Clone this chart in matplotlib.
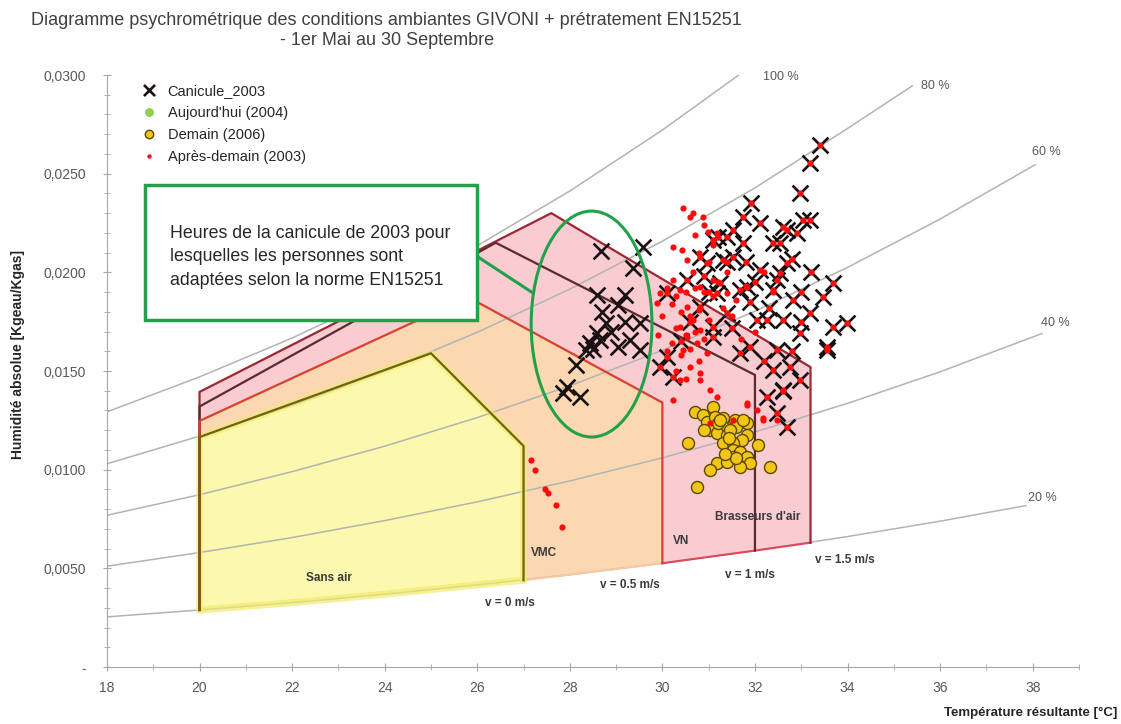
import matplotlib
matplotlib.use('Agg')
import matplotlib.pyplot as plt
from matplotlib.patches import Polygon, Ellipse, Rectangle
from matplotlib.ticker import MultipleLocator, FuncFormatter

plt.rcParams['font.family'] = ['Liberation Sans', 'DejaVu Sans']

# --- humidity curves ---
hr100_T = [18, 20, 22, 24, 26, 28, 30, 31.65]
hr100_w = [0.01293, 0.01470, 0.01667, 0.01888, 0.02135, 0.02412, 0.02721, 0.0300]
hr80_T = [18, 20, 22, 24, 26, 28, 30, 32, 34, 35.4]
hr80_w = [0.01030, 0.01170, 0.01327, 0.01501, 0.01696, 0.01915, 0.02158, 0.02428, 0.02729, 0.02945]
hr60_T = [18, 20, 22, 24, 26, 28, 30, 32, 34, 36, 38.05]
hr60_w = [0.00769, 0.00873, 0.00990, 0.01119, 0.01264, 0.01425, 0.01605, 0.01803, 0.02025, 0.02270, 0.02545]
hr40_T = [18, 20, 22, 24, 26, 28, 30, 32, 34, 36, 38.2]
hr40_w = [0.00511, 0.00580, 0.00656, 0.00742, 0.00837, 0.00943, 0.01060, 0.01191, 0.01336, 0.01496, 0.01690]
hr20_T = [18, 20, 22, 24, 26, 28, 30, 32, 34, 36, 37.85]
hr20_w = [0.00254, 0.00289, 0.00326, 0.00369, 0.00416, 0.00468, 0.00526, 0.00590, 0.00661, 0.00739, 0.00818]
hr_labels = ["100 %", "80 %", "60 %", "40 %", "20 %"]
hr_label_T = [32.55, 35.9, 38.3, 38.5, 38.2]
hr_label_w = [0.0299, 0.02945, 0.0261, 0.01745, 0.00857]

# --- comfort zones (left edge, top, right edge) ---
brasseurs_T = [20.0, 20.0, 27.6, 33.2, 33.2]
brasseurs_w = [0.00289, 0.01394, 0.0230, 0.0152, 0.0063]
vn_T = [20.0, 20.0, 26.4, 32.0, 32.0]
vn_w = [0.00289, 0.0132, 0.0215, 0.0148, 0.0059]
vmc_T = [20.0, 20.0, 25.8, 30.0, 30.0]
vmc_w = [0.00289, 0.01247, 0.01875, 0.0134, 0.00526]
sans_air_T = [20.0, 20.0, 25.0, 27.0, 27.0]
sans_air_w = [0.00289, 0.01165, 0.0159, 0.0112, 0.0044]

zone_names = ["Sans air", "VMC", "VN", "Brasseurs d'air"]
zone_name_T = [22.8, 27.45, 30.4, 32.05]
zone_name_w = [0.00451, 0.00578, 0.00639, 0.0076]
speed_labels = ["v = 0 m/s", "v = 0.5 m/s", "v = 1 m/s", "v = 1.5 m/s"]
speed_T = [26.7, 29.3, 31.9, 33.95]
speed_w = [0.00324, 0.00416, 0.00466, 0.00542]

# --- measured points ---
canicule_T = [28.68, 29.36, 28.58, 29.19, 29.04, 28.79, 29.51, 28.58, 28.43, 28.65,
              29.30, 29.04, 29.51, 28.36, 28.14, 27.93, 28.22, 27.85, 29.58,
              28.90, 28.50, 29.20, 28.70,
              33.40, 33.18, 32.97, 33.18, 31.92, 31.74, 32.10, 31.53, 32.60, 32.90,
              32.54, 31.74, 31.09, 32.69, 32.10, 33.68, 32.47, 33.46, 32.82, 33.98,
              33.68, 33.18, 32.97, 31.89, 33.55, 31.30, 31.17, 31.67, 32.25, 31.09,
              30.81, 31.39, 30.96, 31.53, 32.54, 30.53, 31.24, 31.82, 32.39, 30.10,
              30.81, 31.39, 32.04, 32.60, 30.10, 29.94, 31.09, 31.67, 32.47, 32.75,
              33.55, 32.97, 32.39, 32.25, 32.60, 32.47, 32.69, 30.22, 33.04, 32.69,
              31.90, 32.30, 32.80, 33.20, 31.40, 31.00, 30.60, 30.40, 31.50, 32.00,
              32.80, 33.00, 32.20, 32.60, 33.00, 32.40, 31.80, 31.20, 30.90]
canicule_w = [0.0211, 0.0202, 0.01885, 0.01885, 0.01835, 0.01743, 0.01743, 0.01693, 0.01642, 0.01657,
              0.01657, 0.01622, 0.01607, 0.01607, 0.0153, 0.0142, 0.01368, 0.01389, 0.0213,
              0.0170, 0.0161, 0.0175, 0.0180,
              0.02646, 0.02553, 0.02401, 0.02266, 0.02352, 0.02281, 0.0225, 0.02215, 0.0223, 0.0220,
              0.02149, 0.02149, 0.02164, 0.02048, 0.02012, 0.01946, 0.01961, 0.01875, 0.0186, 0.01743,
              0.01723, 0.01794, 0.01693, 0.01622, 0.01622, 0.02063, 0.01896, 0.01911, 0.01759, 0.01723,
              0.02078, 0.02179, 0.02048, 0.02078, 0.01997, 0.01961, 0.01946, 0.01926, 0.01911, 0.01896,
              0.01825, 0.01794, 0.01759, 0.01759, 0.01571, 0.0152, 0.01673, 0.01591, 0.01607, 0.0152,
              0.01607, 0.01455, 0.01505, 0.01368, 0.01404, 0.01287, 0.01216, 0.0147, 0.02266, 0.02215,
              0.0185, 0.0182, 0.0207, 0.0200, 0.0205, 0.0190, 0.0175, 0.0165, 0.0172, 0.0195,
              0.0160, 0.0175, 0.0155, 0.0140, 0.0190, 0.0215, 0.0205, 0.0218, 0.0198]

aujourdhui_T = []
aujourdhui_w = []

demain_T = [30.70, 30.87, 31.09, 30.96, 31.13, 31.30, 31.56, 31.82, 31.02, 31.30,
            31.17, 31.39, 31.60, 31.82, 31.71, 31.30, 31.53, 32.06, 30.56, 31.53,
            31.67, 31.53, 31.82, 31.17, 31.39, 31.89, 31.67, 31.02, 32.32, 30.74,
            31.46, 31.20, 30.90, 31.25, 31.45, 31.60, 31.35, 31.75]
demain_w = [0.01294, 0.01277, 0.01318, 0.01242, 0.01267, 0.01262, 0.01252, 0.01237, 0.01201, 0.01216,
            0.01186, 0.01176, 0.01216, 0.01176, 0.01151, 0.01135, 0.01135, 0.01125, 0.01135, 0.0110,
            0.0109, 0.01064, 0.01064, 0.01034, 0.01039, 0.01034, 0.01014, 0.00998, 0.01014, 0.00912,
            0.01201, 0.01237, 0.0120, 0.0125, 0.0116, 0.0106, 0.0108, 0.0125]

apres_T = [27.16, 27.25, 27.46, 27.52, 27.70, 27.83,
           30.44, 30.66, 30.87, 30.98, 31.17, 30.42, 30.53, 30.66, 30.22, 29.94,
           29.88, 30.38, 30.81, 31.09, 31.39, 30.53, 30.66, 30.38, 30.81, 30.53,
           30.74, 30.44, 30.96, 30.60, 30.81, 30.38, 30.22, 30.81, 31.02, 31.17,
           31.82, 32.04, 32.17, 32.47, 30.22, 31.02, 31.53, 31.82, 32.17,
           30.30, 30.50, 30.70, 30.90, 31.10, 30.20, 30.40, 30.60, 30.80, 31.00,
           30.30, 30.50, 30.70, 30.90, 30.20, 30.40, 30.60, 30.80, 30.30, 30.50,
           31.20, 31.40, 31.00, 30.80, 31.10, 30.70, 30.90, 30.60, 31.30, 31.50,
           30.10, 30.00, 29.90, 30.10, 31.60, 31.80, 32.20, 32.40, 32.00, 31.70]
apres_w = [0.0105, 0.0100, 0.0090, 0.0088, 0.0082, 0.0071,
           0.02326, 0.02301, 0.02281, 0.02205, 0.0220, 0.02113, 0.02063, 0.02002, 0.01961, 0.01896,
           0.01845, 0.01911, 0.01926, 0.01961, 0.01896, 0.01825, 0.01759, 0.01723, 0.01708, 0.01673,
           0.01642, 0.01607, 0.01591, 0.0152, 0.0149, 0.01455, 0.01353, 0.01455, 0.01404, 0.01368,
           0.01328, 0.01303, 0.01262, 0.01252, 0.02129, 0.01237, 0.01252, 0.01338, 0.01252,
           0.0188, 0.0190, 0.0192, 0.0190, 0.0188, 0.0184, 0.0180, 0.0178, 0.0181, 0.0176,
           0.0172, 0.0168, 0.0170, 0.0166, 0.0164, 0.0158, 0.0161, 0.0155, 0.0150, 0.0146,
           0.0195, 0.0200, 0.0205, 0.0210, 0.0214, 0.0219, 0.0224, 0.0228, 0.0182, 0.0178,
           0.0192, 0.0178, 0.0168, 0.0160, 0.0186, 0.0193, 0.0200, 0.0190, 0.0170, 0.0166]
# the 2003 hourly points coincide with the heat-wave hours above 30 degC
apres_T = apres_T + [t for t in canicule_T if t >= 29.9]
apres_w = apres_w + [w for t, w in zip(canicule_T, canicule_w) if t >= 29.9]

annotation = ("Heures de la canicule de 2003 pour\n"
              "lesquelles les personnes sont\n"
              "adaptées selon la norme EN15251")

fig = plt.figure(figsize=(11.21, 7.24), dpi=100)
ax = fig.add_axes([0.0954, 0.0787, 0.8671, 0.8177])
ax.set_xlim(18, 39)
ax.set_ylim(0, 0.030)


def zone_polygon(zt, zw):
    # top outline + bottom edge following the 20 % curve
    bottom = [(t, w) for t, w in zip(hr20_T, hr20_w) if zt[0] < t < zt[-1]]
    return list(zip(zt, zw)) + bottom[::-1]


zones = [
    (brasseurs_T, brasseurs_w, '#f9ccd2', '#9e2733'),
    (vn_T, vn_w, '#f9ccd2', '#5a2a30'),
    (vmc_T, vmc_w, '#fbd8b2', '#d8412f'),
    (sans_air_T, sans_air_w, '#fcf8ad', '#6e6414'),
]
for zt, zw, fc, ec in zones:
    ax.add_patch(Polygon(zone_polygon(zt, zw), closed=True, facecolor=fc,
                         edgecolor='none', zorder=1))

# bottom edges of the zones
bt = [t for t in hr20_T if 20 <= t <= 27] + [sans_air_T[-1]]
bw = [w for t, w in zip(hr20_T, hr20_w) if 20 <= t <= 27] + [sans_air_w[-1]]
ax.plot(bt, bw, color='#f2ec6c', lw=5, alpha=0.7, zorder=3, solid_capstyle='round')
ax.plot([sans_air_T[-1], 28, vmc_T[-1]], [sans_air_w[-1], hr20_w[5], vmc_w[-1]],
        color='#f7c9a0', lw=1.5, zorder=3)
ax.plot([vmc_T[-1], vn_T[-1], brasseurs_T[-1]], [vmc_w[-1], vn_w[-1], brasseurs_w[-1]],
        color='#e0485a', lw=1.5, zorder=3)

# humidity curves
for ct, cw in [(hr100_T, hr100_w), (hr80_T, hr80_w), (hr60_T, hr60_w),
               (hr40_T, hr40_w), (hr20_T, hr20_w)]:
    ax.plot(ct, cw, color='#b3b3b3', lw=1.1, zorder=2)
for lab, t, w in zip(hr_labels, hr_label_T, hr_label_w):
    ax.text(t, w, lab, fontsize=9, color='#595959', ha='center', va='center', zorder=4)

# zone outlines
ax.plot(sans_air_T, sans_air_w, color='#f2ec6c', lw=5, alpha=0.6, zorder=3)
for zt, zw, fc, ec in zones:
    ax.plot(zt, zw, color=ec, lw=1.6, zorder=4)

for lab, t, w in zip(zone_names, zone_name_T, zone_name_w):
    ax.text(t, w, lab, fontsize=8.5, fontweight='bold', color='#3a3a3a',
            ha='center', va='center', zorder=4)
for lab, t, w in zip(speed_labels, speed_T, speed_w):
    ax.text(t, w, lab, fontsize=8.5, fontweight='bold', color='#3a3a3a',
            ha='center', va='center', zorder=4)

# points
ax.scatter(canicule_T, canicule_w, marker='x', s=130, linewidths=1.9,
           color='#1a1212', zorder=5, label='Canicule_2003')
ax.scatter(aujourdhui_T, aujourdhui_w, marker='o', s=60, color='#92d050',
           zorder=5, label="Aujourd'hui (2004)")
ax.scatter(demain_T, demain_w, marker='o', s=75, facecolor='#f2c617',
           edgecolor='#5c4a00', linewidths=1, zorder=6, label='Demain (2006)')
ax.scatter(apres_T, apres_w, marker='o', s=20, color='#ff0a0a', linewidths=0,
           zorder=7, label='Après-demain (2003)')

leg = ax.legend(loc='upper left', bbox_to_anchor=(0.022, 0.995), frameon=False,
                fontsize=10.5, handletextpad=0.3, labelspacing=0.55,
                borderaxespad=0, markerscale=0.7, scatteryoffsets=[0.5])
for txt in leg.get_texts():
    txt.set_color('#262626')

# annotation
ax.add_patch(Ellipse((28.47, 0.01738), 2.61, 0.01145, fill=False,
                     edgecolor='#22a04b', lw=2.2, zorder=8))
ax.add_patch(Rectangle((0.039, 0.586), 0.342, 0.228, transform=ax.transAxes,
                       facecolor='white', edgecolor='#22a04b', lw=2.5, zorder=9))
ax.plot([0.3786, 0.4383], [0.696, 0.6318], transform=ax.transAxes,
        color='#22a04b', lw=2.2, zorder=8)
ax.text(0.065, 0.6926, annotation, transform=ax.transAxes, fontsize=12.8,
        color='#262626', ha='left', va='center', linespacing=1.5, zorder=10)

# axes styling
for s in ['top', 'right']:
    ax.spines[s].set_visible(False)
for s in ['left', 'bottom']:
    ax.spines[s].set_color('#a6a6a6')
ax.xaxis.set_major_locator(MultipleLocator(2))
ax.xaxis.set_minor_locator(MultipleLocator(1))
ax.yaxis.set_major_locator(MultipleLocator(0.005))
ax.yaxis.set_minor_locator(MultipleLocator(0.001))
ax.yaxis.set_major_formatter(FuncFormatter(
    lambda v, p: '-' if abs(v) < 1e-9 else f"{v:.4f}".replace('.', ',')))
ax.tick_params(which='major', direction='inout', length=6, color='#a6a6a6',
               labelcolor='#595959', labelsize=10)
ax.tick_params(which='minor', direction='inout', length=4, color='#a6a6a6')
ax.tick_params(axis='y', pad=12)
ax.tick_params(axis='x', pad=7)

fig.text(0.345, 0.958, "Diagramme psychrométrique des conditions ambiantes GIVONI + prétratement EN15251\n"
         "- 1er Mai au 30 Septembre", ha='center', va='center', fontsize=13,
         color='#404040', linespacing=1.25)
fig.text(0.016, 0.51, "Humidité absolue [Kgeau/Kgas]", rotation=90, ha='center',
         va='center', fontsize=10, fontweight='bold', color='#262626')
fig.text(0.997, 0.015, "Température résultante [°C]", ha='right', va='center',
         fontsize=9.5, fontweight='bold', color='#262626')

fig.savefig('out.png', dpi=100)
